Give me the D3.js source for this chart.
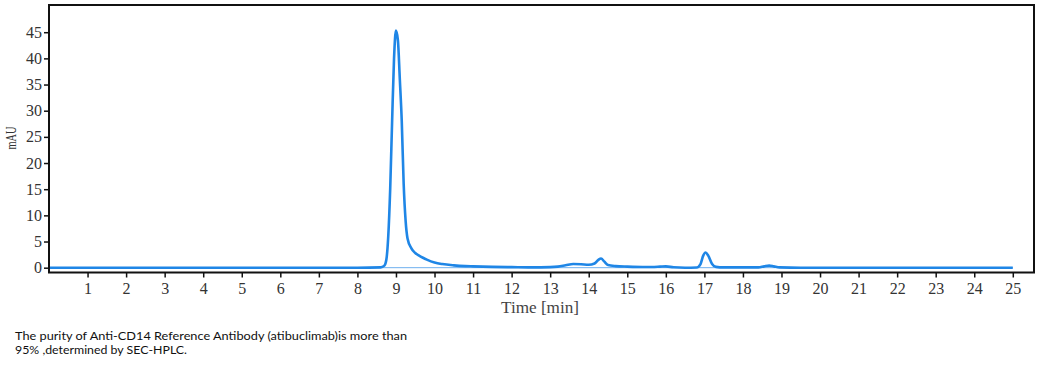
<!DOCTYPE html>
<html>
<head>
<meta charset="utf-8">
<script src="https://cdn.jsdelivr.net/npm/d3@7"></script>
<style>
  html, body { margin: 0; padding: 0; background: #fff; }
  svg { display: block; }
</style>
</head>
<body>
<svg id="chart" width="1047" height="367"></svg>
<script>
// ---- data ----
const timeMin = [0, 8.0, 8.6, 8.7, 8.75, 8.8, 8.85, 8.9, 8.95, 9.0, 9.05, 9.1, 9.15, 9.2, 9.25, 9.3, 9.4, 9.5, 9.6, 9.7, 9.8, 10.0, 10.2, 10.5, 10.8, 11.0, 11.5, 12.0, 12.5, 13.0, 13.2, 13.4, 13.6, 13.8, 14.0, 14.15, 14.25, 14.32, 14.4, 14.5, 14.7, 15.0, 15.5, 15.85, 16.0, 16.2, 16.5, 16.8, 16.9, 16.97, 17.03, 17.1, 17.2, 17.3, 17.5, 18.4, 18.55, 18.68, 18.8, 18.95, 19.5, 25];
const mAU     = [0, 0, 0.05, 0.4, 1.5, 6, 15, 28, 40, 45.3, 43.5, 36, 28, 16, 9, 5.6, 3.7, 2.8, 2.3, 1.9, 1.55, 1.0, 0.7, 0.45, 0.3, 0.25, 0.15, 0.1, 0.05, 0.1, 0.2, 0.45, 0.7, 0.65, 0.55, 0.8, 1.5, 1.75, 1.2, 0.5, 0.3, 0.2, 0.12, 0.2, 0.25, 0.08, 0.0, 0.05, 0.7, 2.3, 2.9, 2.3, 0.7, 0.15, 0.05, 0.05, 0.25, 0.4, 0.25, 0.05, 0, 0];
const xTicks = d3.range(1, 26);
const yTicks = [0, 5, 10, 15, 20, 25, 30, 35, 40, 45];
const xTitle = "Time [min]";
const yTitle = "mAU";
const captionLines = [
  "The purity of Anti-CD14 Reference Antibody (atibuclimab)is more than",
  "95% ,determined by SEC-HPLC."
];

// ---- layout ----
const svg = d3.select("#chart");
const L = 49, R = 1034, T = 5, B = 272.5;

const x = d3.scaleLinear().domain([0, 25.55]).range([L, R]);
const y = d3.scaleLinear().domain([-0.92, 50.2]).range([B, T]);

const serif = "'Liberation Serif', 'DejaVu Serif', serif";

// baseline (thin)
svg.append("line")
  .attr("x1", x(0)).attr("x2", x(25))
  .attr("y1", y(0)).attr("y2", y(0))
  .attr("stroke", "#6fb0ee").attr("stroke-width", 1);

// trace
const pts = timeMin.map((t, i) => [t, mAU[i]]);
svg.append("path")
  .datum(pts)
  .attr("fill", "none")
  .attr("stroke", "#1f86e6")
  .attr("stroke-width", 2.6)
  .attr("stroke-linejoin", "round")
  .attr("d", d3.line().x(d => x(d[0])).y(d => y(d[1])).curve(d3.curveMonotoneX));

// frame
svg.append("rect")
  .attr("x", L).attr("y", T).attr("width", R - L).attr("height", B - T)
  .attr("fill", "none").attr("stroke", "#111").attr("stroke-width", 2);

// x axis
const gx = svg.append("g").attr("transform", `translate(0,${B})`)
  .call(d3.axisBottom(x).tickValues(xTicks).tickSize(5).tickPadding(5).tickFormat(d3.format("d")));
gx.select(".domain").remove();
gx.selectAll("line").attr("stroke", "#111").attr("stroke-width", 1.5);
gx.selectAll("text").attr("font-family", serif).attr("font-size", 16).attr("fill", "#333");

// y axis
const gy = svg.append("g").attr("transform", `translate(${L},0)`)
  .call(d3.axisLeft(y).tickValues(yTicks).tickSize(5).tickPadding(2).tickFormat(d3.format("d")));
gy.select(".domain").remove();
gy.selectAll("line").attr("stroke", "#111").attr("stroke-width", 1.5);
gy.selectAll("text").attr("font-family", serif).attr("font-size", 16).attr("fill", "#333");

// axis titles
svg.append("text")
  .attr("x", 540).attr("y", 313)
  .attr("text-anchor", "middle")
  .attr("font-family", serif).attr("font-size", 16).attr("fill", "#444")
  .attr("textLength", 78).attr("lengthAdjust", "spacingAndGlyphs")
  .text(xTitle);

svg.append("text")
  .attr("transform", "translate(16,138) rotate(-90)")
  .attr("text-anchor", "middle")
  .attr("font-family", serif).attr("font-size", 15).attr("fill", "#333")
  .attr("textLength", 23).attr("lengthAdjust", "spacingAndGlyphs")
  .text(yTitle);

// caption
const capLens = [392, 172];
captionLines.forEach((s, i) => {
  svg.append("text")
    .attr("x", 15).attr("y", 340 + i * 13.5)
    .attr("font-family", "Lato, 'Open Sans', sans-serif").attr("font-size", 12.3).attr("fill", "#111")
    .attr("textLength", capLens[i]).attr("lengthAdjust", "spacingAndGlyphs")
    .text(s);
});
</script>
</body>
</html>
